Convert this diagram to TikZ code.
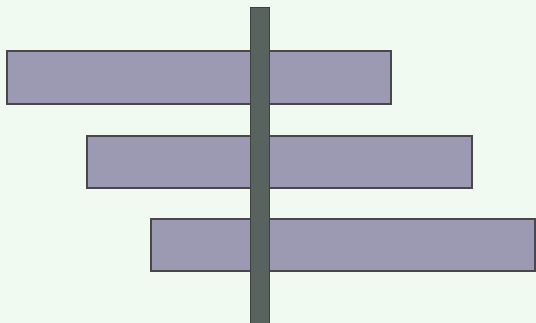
\documentclass[tikz,border=0pt]{standalone}
\usetikzlibrary{backgrounds}
\definecolor{bg}{RGB}{241,250,241}
\definecolor{barfill}{RGB}{156,154,178}
\definecolor{barline}{RGB}{72,72,76}
\definecolor{postfill}{RGB}{88,98,94}
\definecolor{postline}{RGB}{60,66,64}
\tikzset{
  hbar/.style={fill=barfill,draw=barline,line width=1.2pt},
  post/.style={fill=postfill,draw=postline,line width=0.8pt}
}
\begin{document}
\begin{tikzpicture}[x=1pt,y=-1pt]
\fill[bg] (0,0) rectangle (536,323);
\useasboundingbox (0,0) rectangle (536,323);
\path[hbar] (7,51) rectangle (391,104);
\path[hbar] (87,136) rectangle (472,188);
\path[hbar] (151,219) rectangle (535,271);
\path[post] (250,7) rectangle (269,323);
\end{tikzpicture}
\end{document}
